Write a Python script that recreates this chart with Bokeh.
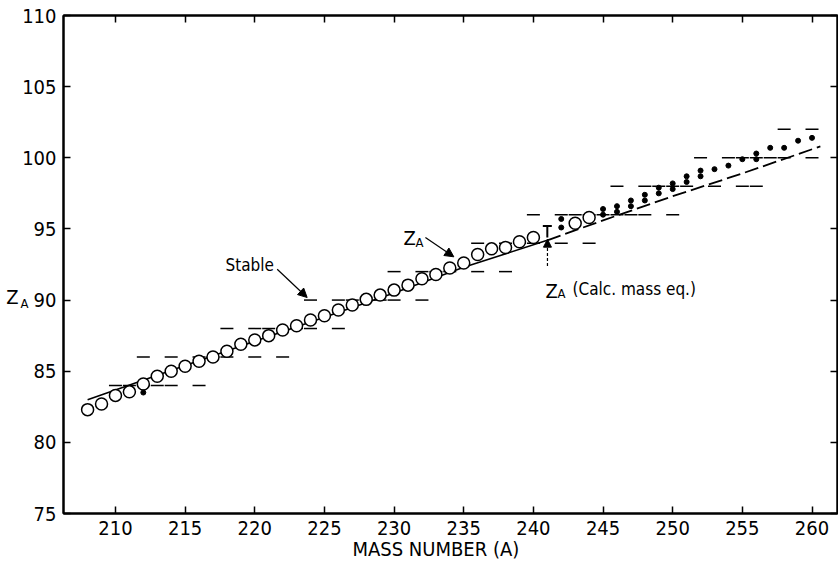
from bokeh.plotting import figure
from bokeh.models import LinearAxis, Range1d, Label, Arrow, NormalHead, FixedTicker
from bokeh.embed import file_html
from bokeh.resources import INLINE

FONT = "DejaVu Sans Condensed"

# ---- data ----
x_ticks = [210, 215, 220, 225, 230, 235, 240, 245, 250, 255, 260]
y_ticks = [75, 80, 85, 90, 95, 100, 105, 110]

# Z_A (open circles)
circ_A = [208, 209, 210, 211, 212, 213, 214, 215, 216, 217, 218, 219, 220, 221, 222,
          223, 224, 225, 226, 227, 228, 229, 230, 231, 232, 233, 234, 235, 236, 237,
          238, 239, 240, 243, 244]
circ_Z = [82.3, 82.7, 83.3, 83.55, 84.1, 84.65, 85.0, 85.35, 85.7, 86.0, 86.4, 86.9, 87.2,
          87.5, 87.9, 88.2, 88.6, 88.9, 89.3, 89.65, 90.05, 90.35, 90.7, 91.05, 91.5,
          91.8, 92.25, 92.6, 93.2, 93.6, 93.7, 94.1, 94.4, 95.4, 95.8]

# Z_A estimates (small filled dots)
dot_A = [212, 242, 242, 245, 245, 246, 246, 247, 247, 248, 248, 249, 249, 250, 250,
         251, 251, 252, 252, 253, 254, 255, 256, 256, 257, 258, 259, 260]
dot_Z = [83.5, 95.1, 95.7, 96.0, 96.4, 96.2, 96.6, 96.6, 97.0, 97.0, 97.4, 97.5, 97.9,
         97.8, 98.2, 98.3, 98.7, 98.7, 99.1, 99.2, 99.45, 99.9, 99.9, 100.3, 100.7,
         100.7, 101.2, 101.4]

# error-bar symbol near A = 241
err_A = [241]
err_lo = [94.4]
err_hi = [95.2]

# calculated Z_A (mass equation)
calc_solid_A = [208, 215, 220, 225, 230, 235, 241]
calc_solid_Z = [83.0, 85.4, 87.1, 88.8, 90.5, 92.3, 94.2]
calc_dash_A = [241, 245, 250, 255, 260.6]
calc_dash_Z = [94.2, 95.6, 97.3, 98.9, 100.8]

# stable nuclides (short horizontal bars), by Z
stable_84 = [210, 211, 212, 213, 214, 216]
stable_86 = [212, 214, 216, 217, 218, 220, 222]
stable_88 = [218, 220, 221, 222, 223, 224, 226]
stable_90 = [224, 226, 227, 228, 229, 230, 232]
stable_92 = [230, 232, 233, 234, 236, 238]
stable_94 = [236, 238, 239, 240, 242, 244]
stable_96 = [240, 242, 243, 244, 245, 246, 247, 248, 250]
stable_98 = [246, 248, 249, 250, 251, 253, 255, 256]
stable_100 = [252, 254, 255, 256, 257, 258, 260]
stable_102 = [258, 260]

stable_rows = {84: stable_84, 86: stable_86, 88: stable_88, 90: stable_90, 92: stable_92,
               94: stable_94, 96: stable_96, 98: stable_98, 100: stable_100, 102: stable_102}
stable_A, stable_Z = [], []
for z, arr in stable_rows.items():
    stable_A += arr
    stable_Z += [z] * len(arr)

# axis titles (text and where they sit on their axis)
x_title = "MASS NUMBER (A)"
x_title_at = 233
y_title_main = "Z"
y_title_sub = "A"
y_title_at = 90.2
y_sub_at = 89.75

# ---- figure ----
p = figure(width=838, height=567, x_range=Range1d(206.27, 261.83), y_range=Range1d(75, 110),
           output_backend="svg", toolbar_location=None,
           min_border_left=63, min_border_right=1, min_border_top=15, min_border_bottom=54)
p.grid.visible = False
p.outline_line_color = "black"
p.outline_line_width = 2
p.background_fill_color = "white"
p.border_fill_color = "white"


def style_axis(ax, labels=True):
    ax.axis_line_width = 2
    ax.axis_line_color = "black"
    ax.major_tick_in = 7
    ax.major_tick_out = 0
    ax.minor_tick_in = 0
    ax.minor_tick_out = 0
    ax.major_tick_line_width = 1.5
    ax.major_tick_line_color = "black"
    if labels:
        ax.major_label_text_font = FONT
        ax.major_label_text_font_size = "20px"
        ax.major_label_text_color = "black"
        ax.major_label_standoff = 7
    else:
        ax.major_label_text_font_size = "1px"
        ax.major_label_text_color = None
        ax.major_label_standoff = 0


def title_axis(ticks, overrides, size, standoff):
    ax = LinearAxis(ticker=FixedTicker(ticks=ticks), major_label_overrides=overrides)
    ax.axis_line_color = None
    ax.major_tick_line_color = None
    ax.minor_tick_line_color = None
    ax.major_tick_in = 0
    ax.major_tick_out = 0
    ax.minor_tick_in = 0
    ax.minor_tick_out = 0
    ax.major_label_text_font = FONT
    ax.major_label_text_font_size = size
    ax.major_label_text_color = "black"
    ax.major_label_standoff = standoff
    return ax


p.xaxis.ticker = FixedTicker(ticks=x_ticks)
p.yaxis.ticker = FixedTicker(ticks=y_ticks)
for ax in p.xaxis:
    style_axis(ax)
for ax in p.yaxis:
    style_axis(ax)

top = LinearAxis(ticker=FixedTicker(ticks=x_ticks))
style_axis(top, labels=False)
p.add_layout(top, "above")
right = LinearAxis(ticker=FixedTicker(ticks=y_ticks))
style_axis(right, labels=False)
p.add_layout(right, "right")

# axis titles as extra label-only axes (outside the frame)
p.add_layout(title_axis([x_title_at], {x_title_at: x_title}, "20px", -1), "below")
p.add_layout(title_axis([y_sub_at], {y_sub_at: y_title_sub}, "13px", -9), "left")
p.add_layout(title_axis([y_title_at], {y_title_at: y_title_main}, "20px", -1), "left")

# stable bars
p.scatter(stable_A, stable_Z, marker="dash", size=13, line_color="black", line_width=1.5)

# calculated line
p.line(calc_solid_A, calc_solid_Z, line_color="black", line_width=1.6)
p.line(calc_dash_A, calc_dash_Z, line_color="black", line_width=1.8, line_dash="14 5")

# Z_A points
p.scatter(circ_A, circ_Z, marker="circle", size=12, fill_color="white",
          line_color="black", line_width=1.5)
p.scatter(dot_A, dot_Z, marker="circle", size=5, fill_color="black", line_color="black")

# error symbol
p.segment(x0=err_A, y0=err_lo, x1=err_A, y1=err_hi, line_color="black", line_width=2)
p.scatter(err_A, err_hi, marker="dash", size=9, line_color="black", line_width=2)


# ---- annotations inside the frame ----
def lab(x, y, t, size, align="left", base="alphabetic"):
    p.add_layout(Label(x=x, y=y, text=t, text_font=FONT, text_font_size=size,
                       text_color="black", text_align=align, text_baseline=base))


# Stable
lab(217.9, 92.43, "Stable", "17px", base="middle")
p.add_layout(Arrow(x_start=221.61, y_start=92.17, x_end=223.76, y_end=90.18,
                   line_color="black", line_width=1.2,
                   end=NormalHead(size=9, fill_color="black", line_color="black")))

# Z_A
lab(230.67, 94.33, "Z", "20px")
lab(231.54, 94.04, "A", "13px")
p.add_layout(Arrow(x_start=232.25, y_start=94.39, x_end=234.29, y_end=93.04,
                   line_color="black", line_width=1.2,
                   end=NormalHead(size=9, fill_color="black", line_color="black")))

# Z_A (Calc. mass eq.)
lab(240.87, 90.67, "Z", "20px")
lab(241.73, 90.46, "A", "13px")
lab(242.81, 90.8, "(Calc. mass eq.)", "17px")
p.add_layout(Arrow(x_start=241.01, y_start=92.4, x_end=241.01, y_end=94.28,
                   line_color="black", line_width=1.2, line_dash="3 2",
                   end=NormalHead(size=8, fill_color="black", line_color="black")))

open("out.html", "w").write(file_html(p, INLINE))
